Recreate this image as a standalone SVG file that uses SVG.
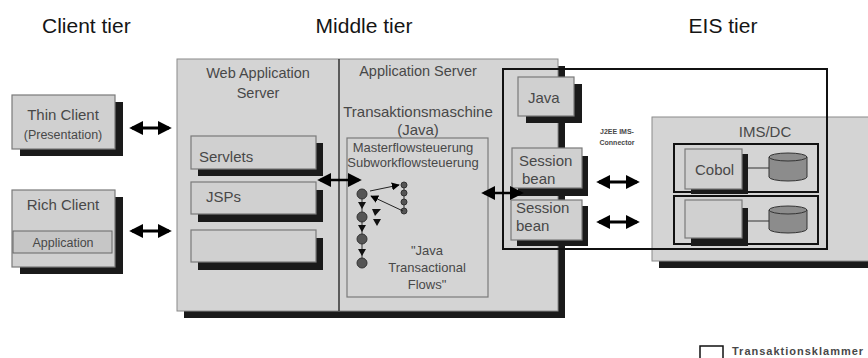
<svg xmlns="http://www.w3.org/2000/svg" width="868" height="358" viewBox="0 0 868 358">
<defs>
<style>
text{font-family:"Liberation Sans",Arial,sans-serif;fill:#484848}
.tier{font-size:21px;fill:#151515}
.lbl{font-size:15px}
.mid{text-anchor:middle}
.panel{fill:#d4d4d4;stroke:#8a8a8a;stroke-width:1}
.box{fill:#d0d0d0;stroke:#7a7a7a;stroke-width:1.2}
.sh{fill:#1a1a1a;stroke:none}
.con{stroke:#000;stroke-width:3;fill:none}
.thin{stroke:#000;stroke-width:2.5;fill:none}
.dot{fill:#555;stroke:#333;stroke-width:1}
.cyl{fill:#8c8c8c;stroke:#333;stroke-width:1}
</style>
<marker id="ahb" viewBox="0 0 10 10" refX="8" refY="5" markerWidth="14" markerHeight="14" markerUnits="userSpaceOnUse" orient="auto-start-reverse"><path d="M0,0 L10,5 L0,10 z" fill="#000"/></marker>
<marker id="ahs" viewBox="0 0 10 10" refX="9" refY="5" markerWidth="8" markerHeight="8" markerUnits="userSpaceOnUse" orient="auto"><path d="M0,0 L10,5 L0,10 z" fill="#000"/></marker>
</defs>
<rect width="868" height="358" fill="#fff"/>

<g id="tiers">
<text class="tier" x="42" y="33">Client tier</text>
<text class="tier mid" x="364" y="33">Middle tier</text>
<text class="tier mid" x="723" y="33">EIS tier</text>
</g>

<g id="middle-panel">
<rect class="sh" fill="#1a1a1a" x="184" y="66" width="381" height="252"/>
<rect class="panel" x="177" y="59" width="381" height="252"/>
<line x1="339" y1="59" x2="339" y2="311" stroke="#333" stroke-width="1.5"/>
</g>

<g id="web-app-server">
<text class="mid" x="258" y="78" font-size="14.5">Web Application</text>
<text class="mid" x="258" y="98" font-size="14.5">Server</text>
</g>
<g id="servlets">
<rect class="sh" fill="#1a1a1a" x="198" y="143" width="125" height="33"/>
<rect class="box" x="191" y="136" width="125" height="33"/>
<text class="lbl" x="199" y="162">Servlets</text>
</g>
<g id="jsps">
<rect class="sh" fill="#1a1a1a" x="198" y="190" width="125" height="32"/>
<rect class="box" x="191" y="182" width="125" height="32"/>
<text class="lbl" x="206" y="202">JSPs</text>
</g>
<g id="web-empty">
<rect class="sh" fill="#1a1a1a" x="198" y="238" width="125" height="32"/>
<rect class="box" x="191" y="230" width="125" height="32"/>
</g>

<g id="app-server">
<text class="mid" x="418" y="76" font-size="14.5">Application Server</text>
<text class="mid" x="418" y="117" font-size="15">Transaktionsmaschine</text>
<text class="mid" x="418" y="135" font-size="15">(Java)</text>
</g>
<g id="flow-box">
<rect x="347" y="138" width="141" height="159" fill="#d4d4d4" stroke="#7a7a7a" stroke-width="1.2"/>
<text class="mid" x="413" y="152" font-size="13">Masterflowsteuerung</text>
<text class="mid" x="413" y="167" font-size="13">Subworkflowsteuerung</text>
<text class="mid" x="427" y="255" font-size="13">"Java</text>
<text class="mid" x="427" y="272" font-size="13">Transactional</text>
<text class="mid" x="427" y="289" font-size="13">Flows"</text>
<line x1="362" y1="194" x2="362" y2="263" stroke="#333" stroke-width="1"/>
<circle class="dot" cx="362" cy="194" r="5"/>
<circle class="dot" cx="362" cy="217" r="5"/>
<circle class="dot" cx="362" cy="239" r="5"/>
<circle class="dot" cx="362" cy="263" r="5"/>
<path d="M358,202 L366,202 L362,209 z M358,225 L366,225 L362,232 z M358,249 L366,249 L362,256 z" fill="#111"/>
<path d="M372,209 L381,209 L375,216 z M373,219 L381,219 L377,226 z" fill="#111"/>
<line x1="404" y1="185" x2="404" y2="211" stroke="#333" stroke-width="1"/>
<circle class="dot" cx="404" cy="185" r="3"/>
<circle class="dot" cx="404" cy="193" r="3"/>
<circle class="dot" cx="404" cy="202" r="3"/>
<circle class="dot" cx="404" cy="211" r="3"/>
<line x1="370" y1="191" x2="399" y2="185" stroke="#222" stroke-width="1" marker-end="url(#ahs)"/>
<line x1="403" y1="211" x2="371" y2="196" stroke="#222" stroke-width="1" marker-end="url(#ahs)"/>
</g>

<g id="java">
<rect class="sh" fill="#1a1a1a" x="526" y="84" width="56" height="39"/>
<rect class="box" x="518" y="77" width="56" height="39"/>
<text class="lbl" x="528" y="103">Java</text>
</g>
<g id="session-bean-1">
<rect class="sh" fill="#1a1a1a" x="518" y="156" width="70" height="40"/>
<rect class="box" x="512" y="148" width="70" height="40"/>
<text class="lbl" x="519" y="166">Session</text>
<text class="lbl" x="522" y="184">bean</text>
</g>
<g id="session-bean-2">
<rect class="sh" fill="#1a1a1a" x="517" y="206" width="71" height="40"/>
<rect class="box" x="511" y="200" width="71" height="40"/>
<text class="lbl" x="516" y="213">Session</text>
<text class="lbl" x="516" y="231">bean</text>
</g>

<g id="thin-client">
<rect class="sh" fill="#1a1a1a" x="20" y="102" width="103" height="54"/>
<rect class="box" x="12" y="95" width="103" height="54"/>
<text class="mid lbl" x="63" y="120">Thin Client</text>
<text class="mid" x="63" y="139" font-size="12.5">(Presentation)</text>
</g>
<g id="rich-client">
<rect class="sh" fill="#1a1a1a" x="20" y="197" width="103" height="77"/>
<rect class="box" x="12" y="190" width="103" height="77"/>
<text class="mid lbl" x="63" y="210">Rich Client</text>
<rect x="13" y="231" width="99" height="22" fill="#c6c6c6" stroke="#666" stroke-width="1"/>
<text class="mid" x="63" y="247" font-size="12.5">Application</text>
</g>

<g id="ims-dc">
<rect class="sh" fill="#1a1a1a" x="659" y="124" width="220" height="144"/>
<rect class="panel" x="652" y="117" width="220" height="144"/>
<text class="mid lbl" x="765" y="137">IMS/DC</text>
<rect x="674" y="144" width="144" height="48" fill="none" stroke="#111" stroke-width="2"/>
<rect x="674" y="196" width="144" height="48" fill="none" stroke="#111" stroke-width="2"/>
</g>
<g id="cobol">
<rect class="sh" fill="#1a1a1a" x="691" y="154" width="57" height="40"/>
<rect class="box" x="685" y="149" width="57" height="40"/>
<text class="lbl" x="695" y="175">Cobol</text>
</g>
<g id="ims-program-2">
<rect class="sh" fill="#1a1a1a" x="691" y="208" width="57" height="38"/>
<rect class="box" x="685" y="200" width="57" height="38"/>
</g>
<g id="db-1">
<path class="cyl" d="M769,157 L769,177 A19,4 0 0 0 807,177 L807,157"/>
<ellipse class="cyl" cx="788" cy="157" rx="19" ry="4"/>
</g>
<g id="db-2">
<path class="cyl" d="M769,210 L769,229 A19,4 0 0 0 807,229 L807,210"/>
<ellipse class="cyl" cx="788" cy="210" rx="19" ry="4"/>
</g>

<g id="connector-label">
<text class="mid" x="617" y="134" font-size="7" font-weight="bold" fill="#333">J2EE IMS-</text>
<text class="mid" x="617" y="145" font-size="7" font-weight="bold" fill="#333">Connector</text>
</g>

<g id="transaction-bracket">
<rect x="503" y="69" width="324" height="180" fill="none" stroke="#111" stroke-width="2"/>
</g>

<g id="connectors">
<line class="con" x1="132" y1="128" x2="169" y2="128" marker-start="url(#ahb)" marker-end="url(#ahb)"/>
<line class="con" x1="132" y1="231" x2="169" y2="231" marker-start="url(#ahb)" marker-end="url(#ahb)"/>
<line class="thin" x1="320" y1="180" x2="359" y2="180" marker-start="url(#ahb)" marker-end="url(#ahb)"/>
<line class="thin" x1="484" y1="193" x2="521" y2="193" marker-start="url(#ahb)" marker-end="url(#ahb)"/>
<line class="con" x1="599" y1="182" x2="637" y2="182" marker-start="url(#ahb)" marker-end="url(#ahb)"/>
<line class="con" x1="599" y1="222" x2="637" y2="222" marker-start="url(#ahb)" marker-end="url(#ahb)"/>
<line x1="748" y1="168" x2="769" y2="168" stroke="#333" stroke-width="1"/>
<line x1="748" y1="221" x2="769" y2="221" stroke="#333" stroke-width="1"/>
</g>

<g id="legend">
<rect x="700" y="346" width="23" height="16" fill="#fff" stroke="#111" stroke-width="1.5"/>
<text x="732" y="355" font-size="11" font-weight="bold" letter-spacing="1" fill="#111">Transaktionsklammer</text>
</g>
</svg>
